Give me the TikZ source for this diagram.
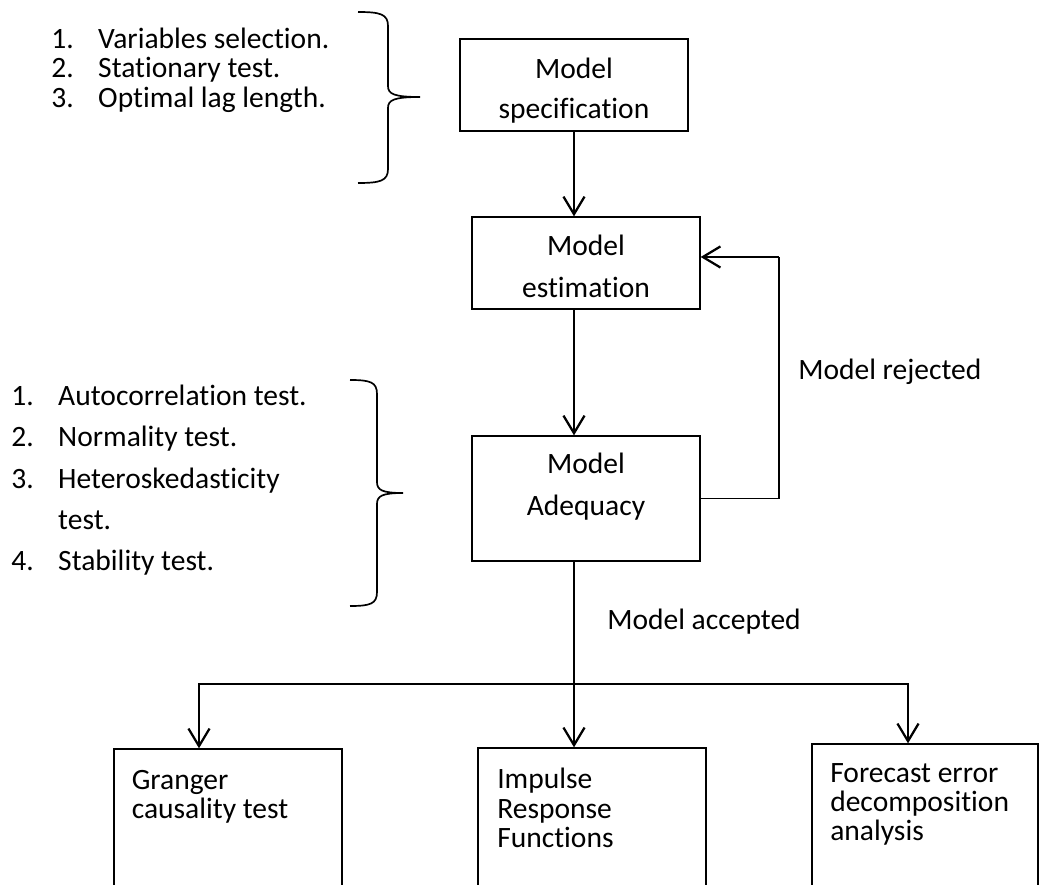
\documentclass[tikz,border=0pt]{standalone}
\usepackage{fontspec}
\setmainfont{Carlito}[Ligatures=NoCommon]
\usepackage{array}
\usetikzlibrary{arrows.meta, calc, positioning}

\tikzset{
	modbox/.style={draw, line width=0.9pt, minimum width=5.7cm, minimum height=2.3cm, inner sep=0pt},
	boxtext/.style={inner sep=0pt, align=center, font=\fontsize{21pt}{29.5pt}\selectfont},
	restext/.style={inner sep=0pt, align=left, font=\fontsize{21pt}{20.8pt}\selectfont},
	listtext/.style={inner sep=0pt, anchor=west},
	flowarrow/.style={-{Straight Barb[length=12.5pt, width=15pt]}, line width=1.6pt},
	thinline/.style={line width=0.9pt},
	bracket/.style={line width=1.2pt},
}

\begin{document}
\begin{tikzpicture}[x=0.025cm, y=-0.025cm]
	\useasboundingbox (0,0) rectangle (1040,885);
	\clip (0,0) rectangle (1040,885);
	% cajas del modelo
	\node[modbox] (spec) at (574,85) {};
	\node[modbox] (est) at (586,263) {};
	\node[modbox, minimum height=3.125cm] (ade) at (586,498.5) {};
	\node[boxtext, anchor=north, font=\fontsize{21pt}{28.5pt}\selectfont] (spectext) at (574,58) {Model\\specification};
	\node[boxtext, anchor=north] (esttext) at (586,235) {Model\\estimation};
	\node[boxtext, anchor=north] (adetext) at (586,453) {Model\\Adequacy};
	% cajas de resultados
	\node[modbox, minimum height=8cm] (gra) at (228,909) {};
	\node[modbox, minimum height=8cm] (imp) at (592,908) {};
	\node[modbox, minimum width=5.65cm, minimum height=8cm] (fec) at (925,904) {};
	\node[restext, anchor=north west] (gratext) at (131.5,770) {Granger\\causality test};
	\node[restext, anchor=north west] (imptext) at (497,768) {Impulse\\Response\\Functions};
	\node[restext, anchor=north west] (fectext) at (830,763) {Forecast error\\decomposition\\analysis};
	% listas
	\node[listtext, font=\fontsize{21pt}{21.3pt}\selectfont] (speclist) at (51,72)
	{\begin{tabular}{@{}p{33.4pt}@{}l@{}}
			1. & Variables selection.\\
			2. & Stationary test.\\
			3. & Optimal lag length.
	\end{tabular}};
	\node[listtext, font=\fontsize{21pt}{29.4pt}\selectfont] (adelist) at (11,480)
	{\begin{tabular}{@{}p{33.4pt}@{}l@{}}
			1. & Autocorrelation test.\\
			2. & Normality test.\\
			3. & Heteroskedasticity\\
			& test.\\
			4. & Stability test.
	\end{tabular}};
	\draw[bracket] (358,12) .. controls (380,12) and (388,14) .. (388,26)
		-- (388,86) .. controls (388,94) and (394,97) .. (420,97)
		.. controls (394,97) and (388,100) .. (388,108)
		-- (388,169) .. controls (388,181) and (380,183) .. (358,183);
	\draw[bracket] (350,380) .. controls (370,380) and (377,382) .. (377,394)
		-- (377,482) .. controls (377,490) and (382,493) .. (403,493)
		.. controls (382,493) and (377,496) .. (377,504)
		-- (377,592) .. controls (377,604) and (370,606) .. (350,606);
	% etiquetas
	\node[inner sep=0pt, anchor=base west, font=\fontsize{21pt}{24pt}\selectfont] (rejlabel) at (798,380) {Model rejected};
	\node[inner sep=0pt, anchor=base west, font=\fontsize{21pt}{24pt}\selectfont] (acclabel) at (607,629) {Model accepted};
	% flechas
	\draw[flowarrow] (spec.south) -- (spec.south |- est.north);
	\draw[flowarrow] (spec.south |- est.south) -- (spec.south |- ade.north);
	\coordinate (back) at (779,257);
	\draw[thinline] (ade.east) -| (back);
	\draw[flowarrow] (back) -- (back -| est.east);
	\coordinate (split) at (574,684);
	\draw[thinline] (spec.south |- ade.south) -- (split);
	\draw[flowarrow] (split) -| ($(gra.north)+(-29,0)$);
	\draw[flowarrow] (split) -| ($(fec.north)+(-17,0)$);
	\draw[flowarrow] (split) -- (split |- imp.north);
\end{tikzpicture}
\end{document}
